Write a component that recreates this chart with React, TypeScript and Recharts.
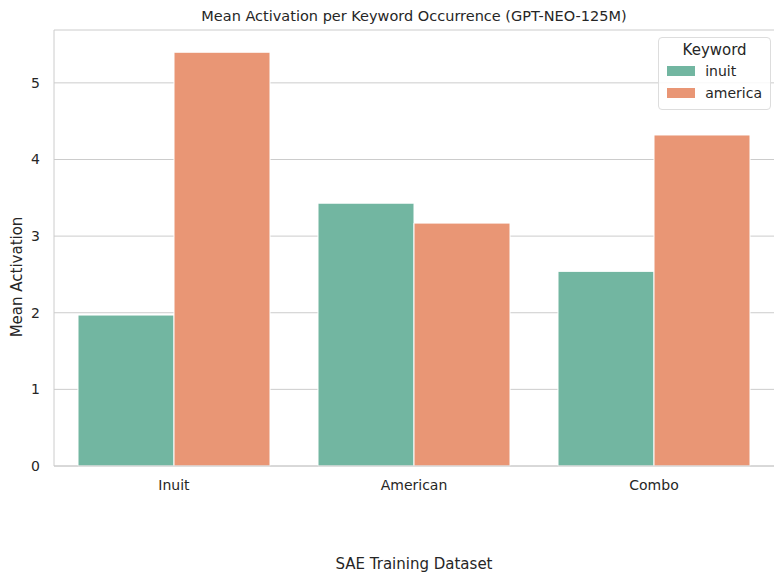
import { Bar, BarChart, CartesianGrid, XAxis, YAxis } from "recharts";

const datasets = ["Inuit", "American", "Combo"];
const inuit = [1.97, 3.43, 2.54];
const america = [5.4, 3.17, 4.32];
const yTicks = [0, 1, 2, 3, 4, 5];

const data = datasets.map((d, i) => ({ name: d, inuit: inuit[i], america: america[i] }));

const GREEN = "#72b6a1";
const ORANGE = "#e99675";
const FONT = "DejaVu Sans, sans-serif";

function LegendBox() {
  const item = (c: string, label: string) => (
    <div style={{ display: "flex", alignItems: "center", height: 22 }}>
      <div style={{ width: 28, height: 10, background: c, marginRight: 10 }} />
      <span>{label}</span>
    </div>
  );
  return (
    <div
      style={{
        position: "absolute",
        top: 37,
        right: 13,
        background: "rgba(255,255,255,0.85)",
        border: "1px solid #ddd",
        borderRadius: 4,
        padding: "3px 8px 5px 8px",
        fontFamily: FONT,
        fontSize: 14,
        color: "#262626",
      }}
    >
      <div style={{ textAlign: "center", marginBottom: 1, fontSize: 15 }}>Keyword</div>
      {item(GREEN, "inuit")}
      {item(ORANGE, "america")}
    </div>
  );
}

export default function App() {
  return (
    <div style={{ margin: -8, width: 784, height: 584, position: "relative", background: "#fff", fontFamily: FONT }}>
      <BarChart
        width={784}
        height={584}
        data={data}
        margin={{ top: 30, right: 10, bottom: 59, left: 0 }}
        barCategoryGap="10%"
        barGap={0}
      >
        <CartesianGrid vertical={false} stroke="#cccccc" />
        <XAxis
          dataKey="name"
          tick={{ fill: "#262626", fontSize: 14 }}
          tickLine={false}
          axisLine={{ stroke: "#cccccc" }}
          tickMargin={8}
          height={59}
        />
        <XAxis xAxisId="top" orientation="top" dataKey="name" tick={false} tickLine={false} axisLine={{ stroke: "#cccccc" }} height={0} />
        <YAxis
          width={54}
          domain={[0, 5.69]}
          ticks={yTicks}
          tick={{ fill: "#262626", fontSize: 14 }}
          tickLine={false}
          axisLine={{ stroke: "#cccccc" }}
          tickMargin={8}
        />
        <YAxis yAxisId="right" orientation="right" tick={false} tickLine={false} axisLine={{ stroke: "#cccccc" }} width={0} />
        <Bar dataKey="inuit" fill={GREEN} stroke="#fff" strokeWidth={1} isAnimationActive={false} />
        <Bar dataKey="america" fill={ORANGE} stroke="#fff" strokeWidth={1} isAnimationActive={false} />
      </BarChart>
      <div style={{ position: "absolute", top: 8, left: 54, right: 10, textAlign: "center", fontSize: 14.5, color: "#262626" }}>
        Mean Activation per Keyword Occurrence (GPT-NEO-125M)
      </div>
      <div style={{ position: "absolute", bottom: 11, left: 54, right: 10, textAlign: "center", fontSize: 15, color: "#262626" }}>
        SAE Training Dataset
      </div>
      <div
        style={{
          position: "absolute",
          left: 17,
          top: 277,
          transform: "translate(-50%, -50%) rotate(-90deg)",
          whiteSpace: "nowrap",
          fontSize: 15,
          color: "#262626",
        }}
      >
        Mean Activation
      </div>
      <LegendBox />
    </div>
  );
}
